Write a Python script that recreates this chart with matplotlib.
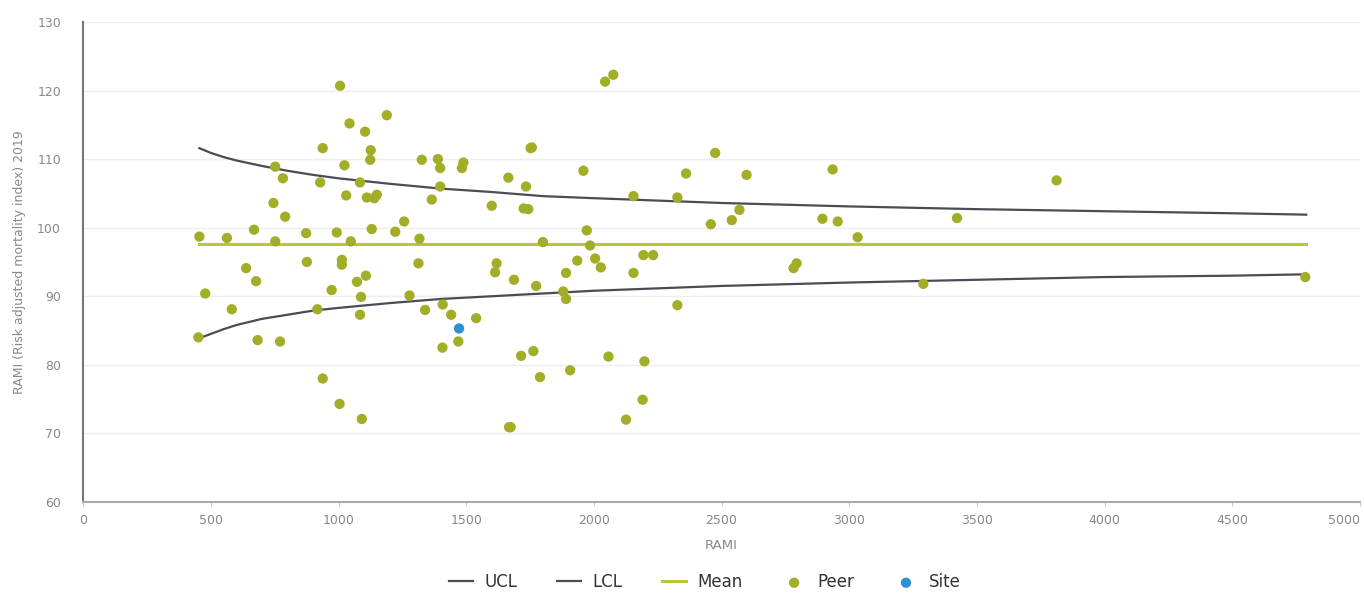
import numpy as np
import matplotlib.pyplot as plt

# peer hospitals: volume vs risk adjusted mortality index
peer_x = [455, 451, 478, 563, 582, 638, 669, 677, 683, 745, 752, 752, 771, 782, 791,
          873, 876, 917, 928, 938, 938, 973, 993, 1004, 1006, 1013, 1013, 1023, 1030,
          1043, 1048, 1072, 1084, 1084, 1088, 1091, 1104, 1107, 1111, 1124, 1126, 1130,
          1140, 1150, 1189, 1222, 1257, 1278, 1313, 1317, 1326, 1339, 1365, 1389, 1398,
          1398, 1407, 1408, 1441, 1469, 1483, 1489, 1539, 1600, 1613, 1619, 1665, 1668,
          1674, 1687, 1715, 1725, 1734, 1743, 1752, 1757, 1763, 1774, 1789, 1800, 1880,
          1891, 1891, 1907, 1935, 1959, 1972, 1985, 2005, 2027, 2044, 2076, 2057, 2126,
          2155, 2155, 2191, 2194, 2198, 2232, 2327, 2327, 2361, 2458, 2475, 2540, 2570,
          2598, 2782, 2794, 2895, 2935, 2955, 3033, 3290, 3422, 3812, 4786]
peer_y = [98.7, 84.0, 90.4, 98.5, 88.1, 94.1, 99.7, 92.2, 83.6, 103.6, 108.9, 98.0, 83.4,
          107.2, 101.6, 99.2, 95.0, 88.1, 106.6, 111.6, 78.0, 90.9, 99.3, 74.3, 120.7,
          95.3, 94.6, 109.1, 104.7, 115.2, 98.0, 92.1, 106.6, 87.3, 89.9, 72.1, 114.0,
          93.0, 104.4, 109.9, 111.3, 99.8, 104.3, 104.8, 116.4, 99.4, 100.9, 90.1, 94.8,
          98.4, 109.9, 88.0, 104.1, 110.0, 108.7, 106.0, 82.5, 88.8, 87.3, 83.4, 108.7,
          109.5, 86.8, 103.2, 93.5, 94.8, 107.3, 70.9, 70.9, 92.4, 81.3, 102.8, 106.0,
          102.7, 111.6, 111.7, 82.0, 91.5, 78.2, 97.9, 90.7, 89.6, 93.4, 79.2, 95.2,
          108.3, 99.6, 97.4, 95.5, 94.2, 121.3, 122.3, 81.2, 72.0, 104.6, 93.4, 74.9,
          96.0, 80.5, 96.0, 104.4, 88.7, 107.9, 100.5, 110.9, 101.1, 102.6, 107.7, 94.1,
          94.8, 101.3, 108.5, 100.9, 98.6, 91.8, 101.4, 106.9, 92.8]

site_x = [1472]
site_y = [85.3]

# control limits
limit_x = [455, 500, 550, 600, 700, 800, 900, 1000, 1200, 1400, 1600, 1800, 2000,
           2500, 3000, 3500, 4000, 4500, 4790]
ucl = [111.6, 110.9, 110.3, 109.8, 109.0, 108.3, 107.7, 107.2, 106.4, 105.7, 105.2,
       104.6, 104.3, 103.6, 103.1, 102.7, 102.4, 102.1, 101.9]
lcl = [83.9, 84.5, 85.2, 85.8, 86.7, 87.3, 87.9, 88.3, 89.0, 89.6, 90.0, 90.4, 90.8,
       91.5, 92.0, 92.4, 92.8, 93.0, 93.2]
mean_val = 97.6

fig = plt.figure(figsize=(13.64, 5.94), dpi=100)
ax = fig.add_axes([0.061, 0.155, 0.936, 0.808])

ax.plot(limit_x, ucl, color='#4a4b55', lw=1.6, label='UCL', zorder=3)
ax.plot(limit_x, lcl, color='#4a4b55', lw=1.6, label='LCL', zorder=3)
ax.plot([limit_x[0], limit_x[-1]], [mean_val, mean_val], color='#bcc43a', lw=2.2,
        label='Mean', zorder=2)
ax.scatter(peer_x, peer_y, s=55, color='#a3ae28', edgecolors='none', label='Peer', zorder=4)
ax.scatter(site_x, site_y, s=55, color='#2e8fd3', edgecolors='none', label='Site', zorder=5)

ax.set_xlim(0, 5000)
ax.set_ylim(60, 130)
ax.set_xticks(np.arange(0, 5001, 500))
ax.set_yticks(np.arange(60, 131, 10))
ax.yaxis.grid(True, color='#eeeeee', lw=1)
ax.set_axisbelow(True)

for side in ['top', 'right']:
    ax.spines[side].set_visible(False)
ax.spines['left'].set_color('#777777')
ax.spines['bottom'].set_color('#aaaaaa')
ax.spines['left'].set_linewidth(1.5)
ax.spines['bottom'].set_linewidth(1.5)
ax.tick_params(axis='y', length=0, labelsize=9, labelcolor='#888888', pad=16)
ax.tick_params(axis='x', length=3, color='#cccccc', labelsize=9, labelcolor='#888888', pad=6)
ax.get_xticklabels()[-1].set_horizontalalignment('right')

ax.set_xlabel('RAMI', fontsize=9.5, color='#888888', labelpad=8)
ax.set_ylabel('RAMI (Risk adjusted mortality index) 2019', fontsize=9, color='#888888',
              labelpad=8)

fig.legend(loc='center', bbox_to_anchor=(0.517, 0.02), ncol=5, frameon=False,
           fontsize=12, labelcolor='#333333', handlelength=1.4, columnspacing=2.4,
           markerscale=1.0, handletextpad=0.7)

plt.savefig('out.png', dpi=100)
